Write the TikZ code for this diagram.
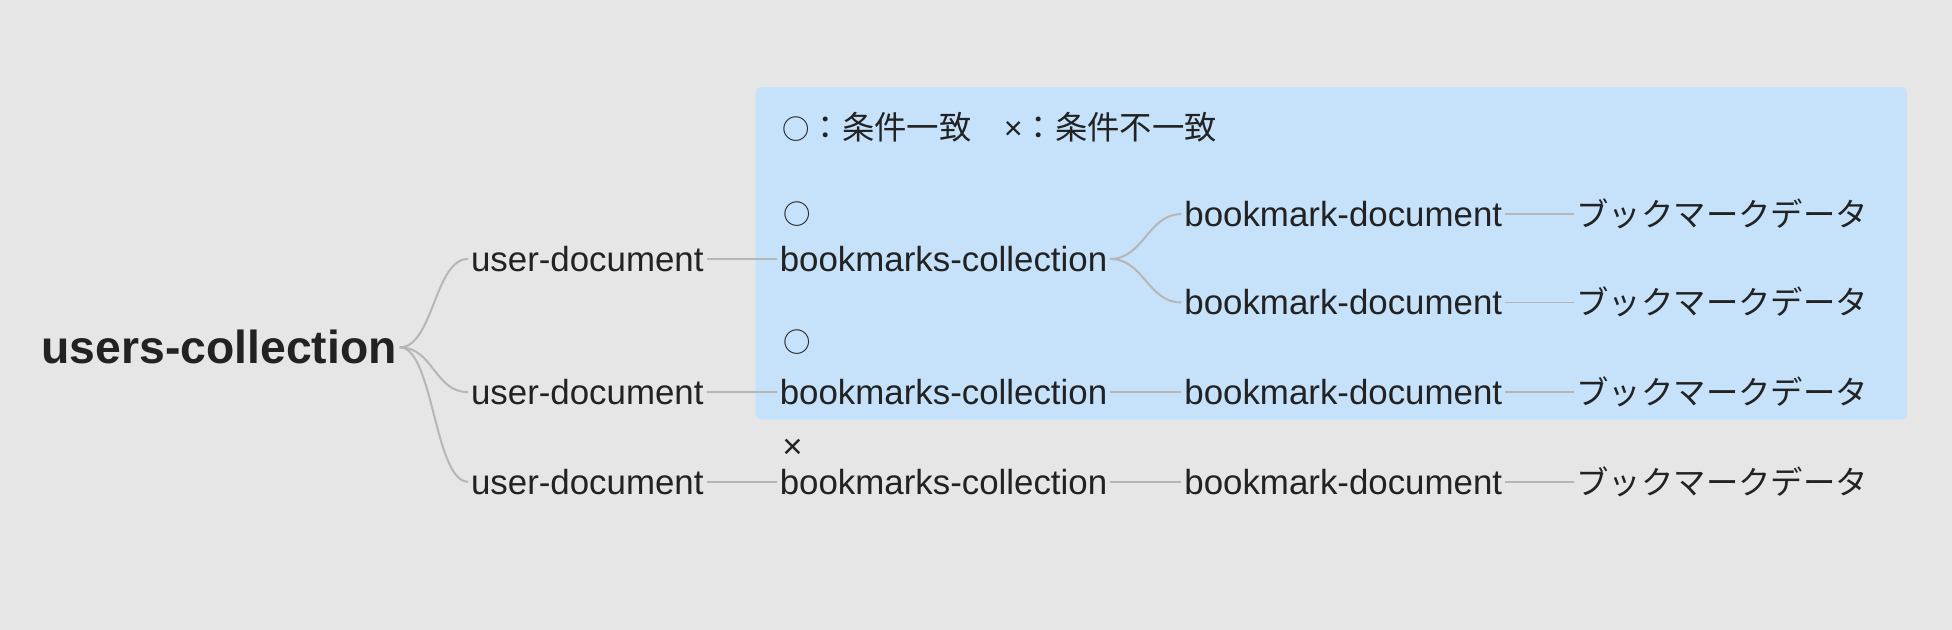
\documentclass[tikz,border=0pt]{standalone}
\usepackage{fontspec}
\setmainfont{Liberation Sans}
\newfontfamily\jp{Noto Sans CJK JP}

\definecolor{paper}{RGB}{230,230,230}
\definecolor{boxblue}{RGB}{197,226,250}
\definecolor{linegray}{RGB}{182,182,182}
\definecolor{ink}{RGB}{34,34,34}

\newcommand{\okmark}{{\jp\fontsize{11}{13}\selectfont ○}}

\begin{document}
\begin{tikzpicture}[x=0.5pt,y=-0.5pt,
  every node/.style={anchor=west,inner xsep=1pt,inner ysep=0pt,
    text height=10pt,text depth=0pt,text=ink},
  txt/.style={font=\fontsize{14}{16}\selectfont},
  rootname/.style={font=\fontsize{18.6}{20}\selectfont\bfseries,text height=13pt},
  datatext/.style={font=\jp\fontsize{13}{15}\selectfont},
  link/.style={draw=linegray,line width=0.8pt}]

\fill[paper] (0,0) rectangle (1568,506);
\fill[boxblue,rounded corners=2pt] (607,70) rectangle (1532,337);

\node[rootname] (root) at (31,279) {users-collection};

\node[txt] (ud1) at (376,208) {user-document};
\node[txt] (ud2) at (376,315) {user-document};
\node[txt] (ud3) at (376,387) {user-document};

\node[datatext] (legend) at (626,102) {\okmark{}：条件一致　{\rmfamily ×}：条件不一致};
\node[datatext] (mark1) at (627,170) {\okmark};
\node[datatext] (mark2) at (627,273) {\okmark};
\node[txt] (mark3) at (626,358) {×};

\node[txt] (bc1) at (624,208) {bookmarks-collection};
\node[txt] (bc2) at (624,315) {bookmarks-collection};
\node[txt] (bc3) at (624,387) {bookmarks-collection};

\node[txt] (bd1) at (949,172) {bookmark-document};
\node[txt] (bd2) at (949,243) {bookmark-document};
\node[txt] (bd3) at (949,315) {bookmark-document};
\node[txt] (bd4) at (949,387) {bookmark-document};

\node[datatext] (dt1) at (1264,172) {ブックマークデータ};
\node[datatext] (dt2) at (1264,243) {ブックマークデータ};
\node[datatext] (dt3) at (1264,315) {ブックマークデータ};
\node[datatext] (dt4) at (1264,387) {ブックマークデータ};

% root to users
\draw[link] (root.east) .. controls +(27,0) and +(-27,0) .. (ud1.west);
\draw[link] (root.east) .. controls +(27,0) and +(-27,0) .. (ud2.west);
\draw[link] (root.east) .. controls +(27,0) and +(-27,0) .. (ud3.west);

% users to bookmarks
\draw[link] (ud1.east) -- (bc1.west);
\draw[link] (ud2.east) -- (bc2.west);
\draw[link] (ud3.east) -- (bc3.west);

\draw[link] (bc1.east) .. controls +(27,0) and +(-27,0) .. (bd1.west);
\draw[link] (bc1.east) .. controls +(27,0) and +(-27,0) .. (bd2.west);
\draw[link] (bc2.east) -- (bd3.west);
\draw[link] (bc3.east) -- (bd4.west);

% data
\draw[link] (bd1.east) -- (dt1.west);
\draw[link] (bd2.east) -- (dt2.west);
\draw[link] (bd3.east) -- (dt3.west);
\draw[link] (bd4.east) -- (dt4.west);
\end{tikzpicture}
\end{document}
